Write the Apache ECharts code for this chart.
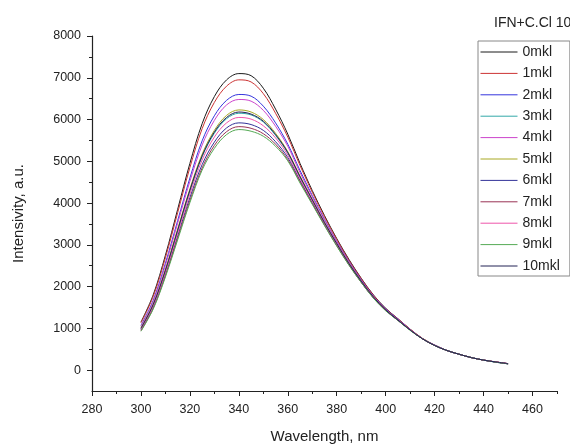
<!DOCTYPE html>
<html>
<head>
<meta charset="utf-8">
<script src="https://cdn.jsdelivr.net/npm/echarts@6/dist/echarts.min.js"></script>
<style>html,body{margin:0;padding:0;background:#fff}#c{width:570px;height:444px}</style>
</head>
<body>
<div id="c"></div>
<script>
const wavelengths = [300,305,310,315,320,325,330,335,340,345,350,355,360,365,370,375,380,385,390,395,400,405,410,415,420,425,430,435,440,445,450];
const seriesNames = ['0mkl','1mkl','2mkl','3mkl','4mkl','5mkl','6mkl','7mkl','8mkl','9mkl','10mkl'];
const s0  = [1150,1800,2750,3850,4950,5900,6550,6950,7100,7050,6750,6250,5650,4950,4300,3700,3150,2650,2200,1800,1480,1230,980,760,600,470,380,300,240,195,155];
const s1  = [1130,1760,2690,3770,4850,5780,6410,6800,6950,6900,6620,6150,5580,4900,4260,3670,3130,2630,2190,1790,1470,1230,980,760,600,470,380,300,240,195,155];
const s2  = [1070,1670,2560,3580,4600,5490,6090,6460,6600,6560,6320,5920,5410,4780,4180,3610,3080,2600,2160,1770,1460,1220,970,750,600,470,380,300,240,195,150];
const s3  = [1000,1560,2380,3330,4290,5110,5670,6020,6150,6110,5940,5620,5200,4620,4070,3530,3020,2550,2130,1750,1440,1200,960,750,590,470,380,300,240,190,155];
const s4  = [1050,1640,2510,3520,4520,5390,5980,6350,6480,6440,6220,5840,5360,4730,4150,3590,3070,2590,2150,1770,1450,1210,970,750,600,470,380,300,240,195,155];
const s5  = [1010,1580,2410,3380,4340,5170,5740,6100,6230,6180,6000,5670,5230,4650,4090,3540,3030,2560,2130,1750,1440,1200,960,750,590,470,380,300,240,195,150];
const s6  = [960,1500,2290,3210,4130,4920,5460,5800,5920,5880,5740,5470,5090,4540,4010,3490,2990,2530,2110,1730,1430,1190,960,750,590,470,380,300,240,190,150];
const s7  = [940,1480,2260,3160,4060,4840,5380,5710,5830,5790,5660,5410,5040,4510,3990,3470,2980,2520,2100,1730,1430,1190,960,750,590,470,380,300,240,195,155];
const s8  = [980,1530,2340,3280,4220,5030,5580,5920,6050,6010,5850,5560,5150,4580,4050,3510,3010,2540,2120,1740,1440,1200,960,750,590,470,380,300,240,195,155];
const s9  = [930,1460,2230,3120,4010,4790,5310,5640,5760,5720,5600,5360,5010,4480,3970,3460,2970,2510,2100,1720,1420,1190,950,750,590,470,380,300,240,190,150];
const s10 = [1000,1570,2390,3350,4310,5130,5700,6050,6180,6130,5960,5640,5210,4630,4080,3530,3030,2550,2130,1750,1440,1200,960,750,590,470,380,300,240,195,155];
const allSeries = [s0,s1,s2,s3,s4,s5,s6,s7,s8,s9,s10];
const colors = ['#1a1a1a','#cc3333','#3535dd','#33a8a8','#cc44cc','#a8a822','#333399','#993355','#ee55aa','#55aa55','#222255'];
const yMajorTicks = [0,1000,2000,3000,4000,5000,6000,7000,8000];
const yMinorTicks = [500,1500,2500,3500,4500,5500,6500,7500];
const xMajorTicks = [280,300,320,340,360,380,400,420,440,460];
const xMinorTicks = [290,310,330,350,370,390,410,430,450,470];

const FONT = 'Liberation Sans';
const chart = echarts.init(document.getElementById('c'), null, {renderer:'canvas'});
const axisLine = {show:true, onZero:false, lineStyle:{color:'#222', width:1.2}};
const plain = v => String(v);
const option = {
  backgroundColor:'#fff',
  animation:false,
  color: colors,
  title:{text:'IFN+C.Cl 10', left:489, top:11, textStyle:{fontFamily:FONT, fontSize:14, fontWeight:'normal', color:'#222'}},
  legend:{
    orient:'vertical', left:478, top:41,
    data: seriesNames,
    itemWidth:37, itemHeight:14, itemGap:7.4, itemTextGap:3,
    padding:[4,10,3,2],
    borderColor:'#888', borderWidth:1,
    itemStyle:{opacity:0},
    lineStyle:{width:1},
    textStyle:{fontFamily:FONT, fontSize:14, color:'#222', lineHeight:14}
  },
  grid:{left:92, right:13, top:36, bottom:53, containLabel:false, outerBoundsMode:'none'},
  xAxis:[{
    type:'value', min:280, max:470,
    axisLine: axisLine,
    axisTick:{show:true, inside:false, length:5, customValues:xMajorTicks, lineStyle:{color:'#222'}},
    axisLabel:{customValues:xMajorTicks, formatter:plain, margin:12, fontFamily:FONT, fontSize:12.5, color:'#222'},
    splitLine:{show:false},
    name:'Wavelength, nm', nameLocation:'middle', nameGap:38,
    nameTextStyle:{fontFamily:FONT, fontSize:15, color:'#222'}
  },{
    type:'value', min:280, max:470, position:'bottom',
    axisLine:{show:false, onZero:false},
    axisTick:{show:true, inside:false, length:3, customValues:xMinorTicks, lineStyle:{color:'#222'}},
    axisLabel:{show:false}, splitLine:{show:false}
  }],
  yAxis:[{
    type:'value', min:-500, max:8000,
    axisLine: axisLine,
    axisTick:{show:true, inside:false, length:5, customValues:yMajorTicks, lineStyle:{color:'#222'}},
    axisLabel:{customValues:yMajorTicks, formatter:plain, margin:11, fontFamily:FONT, fontSize:12.5, color:'#222'},
    splitLine:{show:false},
    name:'Intensivity, a.u.', nameLocation:'middle', nameGap:66, nameRotate:90,
    nameTextStyle:{fontFamily:FONT, fontSize:15, color:'#222'}
  },{
    type:'value', min:-500, max:8000, position:'left',
    axisLine:{show:false, onZero:false},
    axisTick:{show:true, inside:false, length:3, customValues:yMinorTicks, lineStyle:{color:'#222'}},
    axisLabel:{show:false}, splitLine:{show:false}
  }],
  series: allSeries.map((vals, i) => ({
    name: seriesNames[i],
    type:'line',
    xAxisIndex:0, yAxisIndex:0,
    symbol:'none',
    smooth:0.35,
    lineStyle:{width:1, color:colors[i]},
    data: wavelengths.map((w, j) => [w, vals[j]])
  }))
};
chart.setOption(option);
</script>
</body>
</html>
